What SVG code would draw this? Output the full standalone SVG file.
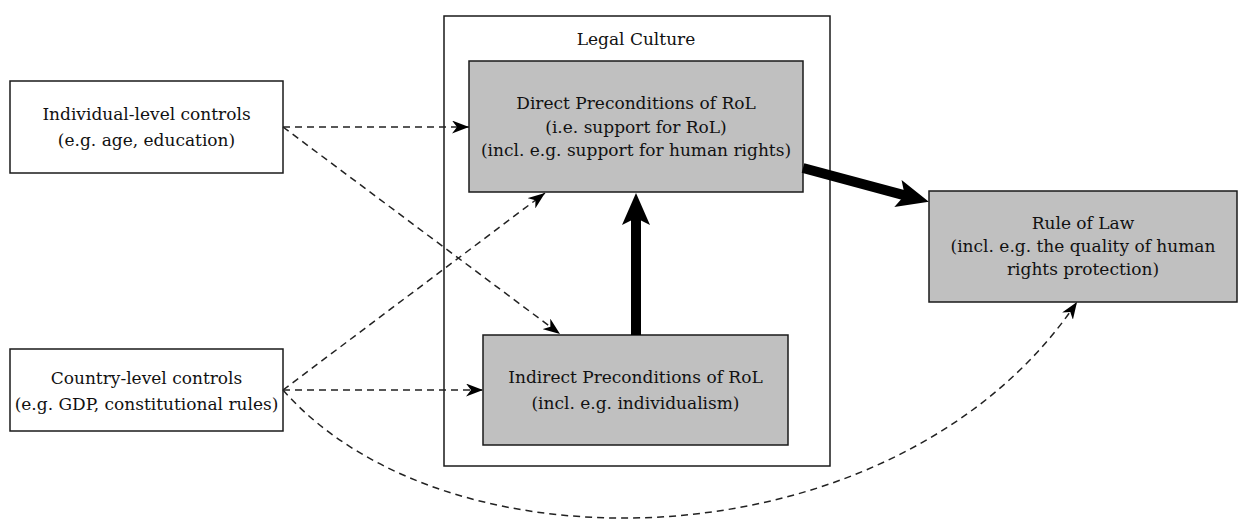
<svg xmlns="http://www.w3.org/2000/svg" width="1239" height="521" viewBox="0 0 1239 521">
<style>
  .box{fill:#ffffff;stroke:#1a1a1a;stroke-width:1.5}
  .gbox{fill:#c0c0c0;stroke:#1a1a1a;stroke-width:1.5}
  .t{font-family:"DejaVu Serif","Liberation Serif",serif;font-size:17px;fill:#111;text-anchor:middle}
  .dash{fill:none;stroke:#222;stroke-width:1.5;stroke-dasharray:7,5;marker-end:url(#sm)}
  .thick{fill:none;stroke:#000;stroke-width:10;marker-end:url(#big)}
</style>
<defs>
  <marker id="sm" markerUnits="userSpaceOnUse" markerWidth="17" markerHeight="13" viewBox="0 0 17 13" refX="17" refY="6.5" orient="auto">
    <path d="M0,0 L17,6.5 L0,13 L5,6.5 z" fill="#000"/>
  </marker>
  <marker id="big" markerUnits="userSpaceOnUse" markerWidth="32" markerHeight="28" viewBox="0 0 32 28" refX="10" refY="14" orient="auto">
    <path d="M0,0 L32,14 L0,28 L7,14 z" fill="#000"/>
  </marker>
</defs>
<rect width="1239" height="521" fill="#ffffff"/>

<g id="legal-culture">
  <rect class="box" x="444" y="16" width="386" height="450"/>
  <text class="t" x="636" y="45">Legal Culture</text>
</g>

<g id="individual">
  <rect class="box" x="10" y="81" width="273" height="92"/>
  <text class="t" x="146.5" y="120">Individual-level controls</text>
  <text class="t" x="146.5" y="146">(e.g. age, education)</text>
</g>

<g id="country">
  <rect class="box" x="10" y="349" width="273" height="82"/>
  <text class="t" x="146.5" y="384">Country-level controls</text>
  <text class="t" x="146.5" y="410">(e.g. GDP, constitutional rules)</text>
</g>

<g id="direct">
  <rect class="gbox" x="469" y="61" width="334" height="131"/>
  <text class="t" x="636" y="109">Direct Preconditions of RoL</text>
  <text class="t" x="636" y="133">(i.e. support for RoL)</text>
  <text class="t" x="636" y="156">(incl. e.g. support for human rights)</text>
</g>

<g id="indirect">
  <rect class="gbox" x="483" y="335" width="305" height="110"/>
  <text class="t" x="635.5" y="383">Indirect Preconditions of RoL</text>
  <text class="t" x="635.5" y="409">(incl. e.g. individualism)</text>
</g>

<g id="rule-of-law">
  <rect class="gbox" x="929" y="191" width="308" height="111"/>
  <text class="t" x="1083" y="229">Rule of Law</text>
  <text class="t" x="1083" y="252">(incl. e.g. the quality of human</text>
  <text class="t" x="1083" y="275">rights protection)</text>
</g>

<g id="connectors">
  <path class="dash" d="M283,127 L469,127"/>
  <path class="dash" d="M283,127 L560,334"/>
  <path class="dash" d="M283,390 L545,193"/>
  <path class="dash" d="M283,390 L483,390"/>
  <path class="dash" d="M283,390 C450,580 900,565 1077,302"/>
  <path class="thick" d="M636,335 L636,215"/>
  <path class="thick" d="M803,168 L907.6,196.1"/>
</g>
</svg>
